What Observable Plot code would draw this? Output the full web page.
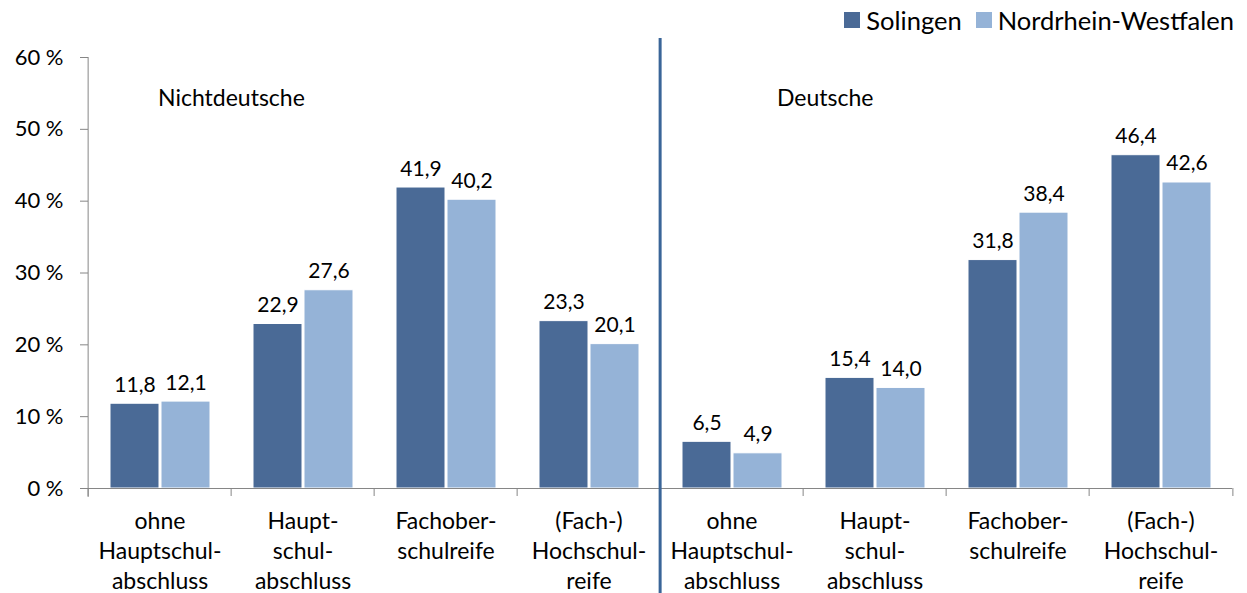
<!DOCTYPE html>
<html>
<head>
<meta charset="utf-8">
<script src="https://cdn.jsdelivr.net/npm/d3@7"></script>
<script src="https://cdn.jsdelivr.net/npm/@observablehq/plot@0.6"></script>
<style>
  body { margin: 0; background: #fff; font-family: Lato, "Liberation Sans", sans-serif; overflow: hidden; }
  #legend { height: 38px; display: flex; justify-content: flex-end; align-items: center; padding-right: 13px; font-size: 25.5px; color: #000; box-sizing: border-box; padding-top: 2px; }
  #legend .item { display: flex; align-items: center; margin-left: 14px; }
  #legend .sw { width: 16px; height: 16px; margin-right: 6px; }
</style>
</head>
<body>
<div id="legend"></div>
<div id="chart"></div>
<script>
const keys = ["N0", "N1", "N2", "N3", "D0", "D1", "D2", "D3"];
const categoryLabels = [
  "ohne\nHauptschul-\nabschluss", "Haupt-\nschul-\nabschluss", "Fachober-\nschulreife", "(Fach-)\nHochschul-\nreife",
  "ohne\nHauptschul-\nabschluss", "Haupt-\nschul-\nabschluss", "Fachober-\nschulreife", "(Fach-)\nHochschul-\nreife"
];
const series = ["Solingen", "Nordrhein-Westfalen"];
const solingen = [11.8, 22.9, 41.9, 23.3, 6.5, 15.4, 31.8, 46.4];
const nrw = [12.1, 27.6, 40.2, 20.1, 4.9, 14.0, 38.4, 42.6];
const colors = ["#4a6a96", "#95b3d7"];
const yTicks = [0, 10, 20, 30, 40, 50, 60];
const groupKeys = ["N0", "D0"];
const groupNames = ["Nichtdeutsche", "Deutsche"];

const labelOf = Object.fromEntries(keys.map((k, i) => [k, categoryLabels[i]]));
const rows = keys.flatMap((k, i) => [
  {key: k, series: series[0], value: solingen[i]},
  {key: k, series: series[1], value: nrw[i]}
]);

// legend
const legend = document.getElementById("legend");
series.forEach((s, i) => {
  const it = document.createElement("div");
  it.className = "item";
  it.innerHTML = `<span class="sw" style="background:${colors[i]}"></span><span>${s}</span>`;
  legend.appendChild(it);
});

const half = (1247 - 85 - 12) / keys.length / 2;
const axisGray = "#868686";
const groupDx = [-2, 45];

const chart = Plot.plot({
  width: 1247,
  height: 555,
  marginTop: 19,
  marginBottom: 105,
  marginLeft: 85,
  marginRight: 12,
  style: {fontFamily: "Lato, 'Liberation Sans', sans-serif", fontSize: "22px", color: "#000", background: "#fff"},
  fx: {domain: keys, padding: 0, label: null, axis: null},
  x: {domain: series, paddingInner: 0.04, paddingOuter: 0.4, axis: null},
  y: {domain: [0, 60], axis: null},
  color: {domain: series, range: colors},
  marks: [
    Plot.barY(rows, {fx: "key", x: "series", y: "value", fill: "series", stroke: "white", strokeWidth: 1}),
    Plot.text(rows, {fx: "key", x: "series", y: "value", text: d => d.value.toFixed(1).replace(".", ","), lineAnchor: "bottom", dy: -12, fontSize: 21}),
    Plot.ruleY([0], {stroke: axisGray}),
    Plot.ruleX(keys, {fx: d => d, x: null, dx: -half, insetTop: 431, insetBottom: -8, stroke: axisGray}),
    Plot.ruleX([keys[keys.length - 1]], {fx: d => d, x: null, dx: half, insetTop: 431, insetBottom: -8, stroke: axisGray}),
    Plot.ruleX([keys[0]], {fx: d => d, x: null, dx: -half, insetBottom: -9, stroke: axisGray}),
    Plot.ruleX([keys[4]], {fx: d => d, x: null, dx: -half, insetTop: -20, insetBottom: -105, stroke: "#3a6598", strokeWidth: 3}),
    Plot.axisY({ticks: yTicks, tickFormat: d => `${d} %`, tickSize: 8, tickPadding: 17, stroke: axisGray, fontSize: 22, label: null}),
    Plot.axisFx({anchor: "bottom", tickFormat: k => labelOf[k], tickSize: 0, tickPadding: 19, lineHeight: 1.31, fontSize: 23, label: null}),
    ...groupKeys.map((k, i) => Plot.text([k], {fx: d => d, text: () => groupNames[i], frameAnchor: "top", lineAnchor: "middle", textAnchor: "start", dx: groupDx[i], dy: 41, fontSize: 23}))
  ]
});
document.getElementById("chart").appendChild(chart);
</script>
</body>
</html>
